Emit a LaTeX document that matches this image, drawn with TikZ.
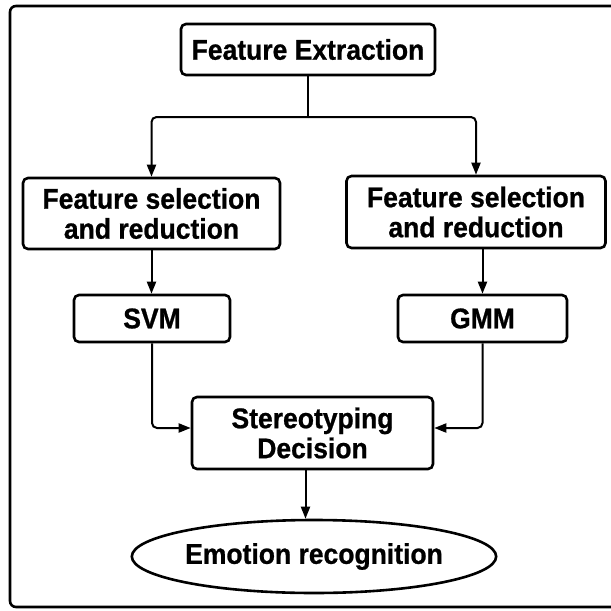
\documentclass[tikz,border=0pt]{standalone}
\usepackage{fontspec}
\setmainfont{Liberation Sans}[FakeStretch=0.93,FakeBold=0.8]
\usetikzlibrary{arrows.meta,shapes.geometric}
\begin{document}
\begin{tikzpicture}[x=1pt,y=-1pt,
  label font/.style={font=\bfseries\fontsize{28.5}{30}\selectfont},
  box/.style={draw, line width=2.6pt, rounded corners=5pt, inner sep=0pt,
    align=center, label font},
  oval/.style={draw, ellipse, line width=2.6pt, inner sep=0pt, label font},
  link/.style={line width=2pt, rounded corners=5pt},
  arr/.style={link, -{Triangle[length=12pt,width=9pt]}}]
\clip (0,0) rectangle (611,611);
% outer frame (its right side runs past the page edge)
\draw[line width=2.6pt, rounded corners=6pt] (10,6) rectangle (640,607);

% nodes
\node[box, minimum width=254pt, minimum height=51pt] (fe) at (308,49.5) {Feature Extraction};
\node[box, minimum width=257pt, minimum height=71pt] (fsl) at (151.5,213.5) {Feature selection\\and reduction};
\node[box, minimum width=259pt, minimum height=72pt] (fsr) at (476,212) {Feature selection\\and reduction};
\node[box, minimum width=156pt, minimum height=47pt] (svm) at (152,318.5) {SVM};
\node[box, minimum width=169pt, minimum height=47pt] (gmm) at (482.5,318.5) {GMM};
\node[box, minimum width=241pt, minimum height=72pt] (sd) at (312.5,433) {Stereotyping\\Decision};
\node[oval, minimum width=298pt, minimum height=73pt] (er) at (314,556.5) {Emotion recognition};

% connectors
\coordinate (split) at (308,117);
\draw[link] (fe.south) -- (split);
\draw[arr] (split) -| (fsl.north);
\draw[arr] (split) -| (fsr.north);
\draw[arr] (fsl.south) -- (fsl.south |- svm.north);
\draw[arr] (fsr.south -| gmm.north) -- (gmm.north);
\draw[arr] (svm.south) |- ([yshift=5pt]sd.west);
\draw[arr] (gmm.south) |- ([yshift=5pt]sd.east);
\draw[arr] ([xshift=-7pt]sd.south) -- ([xshift=-7pt]sd.south |- er.north);
\end{tikzpicture}
\end{document}
